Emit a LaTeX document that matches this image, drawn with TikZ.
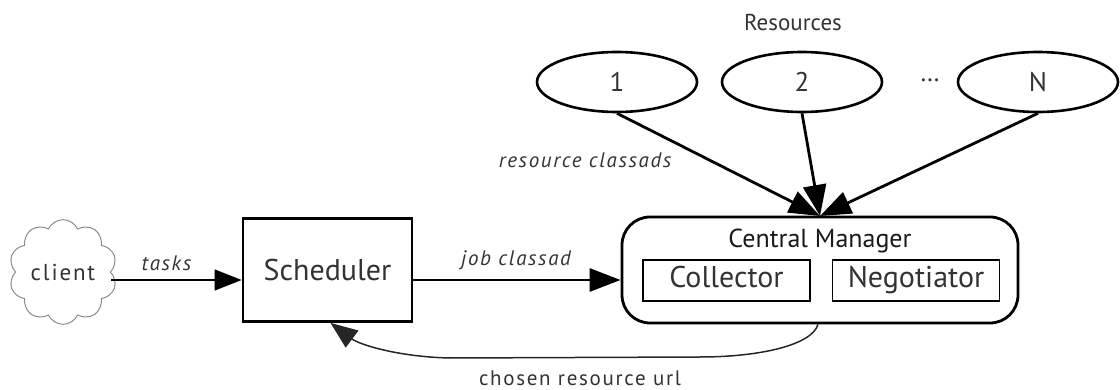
\documentclass[tikz,border=0pt]{standalone}
\usepackage{fontspec}
\setmainfont{PT Sans}
\newfontfamily\lblfont[LetterSpace=8]{PT Sans}
\usetikzlibrary{shapes.symbols,shapes.geometric,arrows.meta,calc}

\newcommand{\fntL}{\fontsize{30}{34}\selectfont}
\newcommand{\fntM}{\fontsize{26}{30}\selectfont}
\newcommand{\fntS}{\lblfont\fontsize{21}{24}\selectfont}

\begin{document}
\begin{tikzpicture}[x=1pt,y=-1pt,
  ink/.style={text=black!80},
  proc/.style={draw, line width=2.8pt, minimum width=169pt, minimum height=103pt, inner sep=0pt},
  manager/.style={draw, line width=2.8pt, rounded corners=28pt, minimum width=396pt, minimum height=106pt, inner sep=0pt},
  part/.style={draw, line width=1.3pt, minimum width=167pt, minimum height=41pt, inner sep=0pt,
    text height=21pt, text depth=6pt, ink, font=\fntL},
  res/.style={draw, ellipse, line width=2.6pt, minimum width=160pt, minimum height=60pt, inner sep=0pt,
    text height=19pt, text depth=0pt, ink, font=\fontsize{27}{30}\selectfont},
  puff/.style={draw=black!45, line width=1pt, cloud, cloud puffs=10, cloud puff arc=130,
    minimum width=108pt, minimum height=70pt, inner sep=0pt, ink, font=\lblfont\fontsize{23}{26}\selectfont},
  bigtip/.style={-{Triangle[length=31pt,width=23pt]}},
  smalltip/.style={-{Triangle[length=27pt,width=21pt]}},
  lbl/.style={ink, font=\fntS, inner sep=0pt},
  ilbl/.style={ink, font=\fntS\itshape, inner sep=0pt},
]
\useasboundingbox (0,0) rectangle (1120,390);

% resources
\node[ink, font=\fontsize{23}{26}\selectfont] (restitle) at (793,22) {Resources};
\node[res] (r1) at (617,82) {1};
\node[res] (r2) at (802,82) {2};
\node[ink, font=\fntM] (dots) at (930,80) {\dots};
\node[res] (rn) at (1038,82) {N};

% client and scheduler
\node[puff] (client) at (63,272) {client};
\node[proc, ink, font=\fntL] (sched) at (327.5,270) {Scheduler};

% central manager with its daemons
\node[manager] (cm) at (820,270) {};
\node[text=black!90, font=\fntM, inner sep=0pt] (cmtitle) at (820,241) {Central Manager};
\node[part] (coll) at (726.5,280.5) {Collector};
\node[part] (nego) at (916,280.5) {Negotiator};

% connectors
\coordinate (ax) at (0,280);
\coordinate (cmtop) at (820,216);

\draw[line width=1.3pt, smalltip] (client.east |- ax) -- (sched.west |- ax)
  node[ilbl, midway, above=9pt, xshift=-10pt] (tasks) {tasks};
\draw[line width=2.8pt, bigtip] (sched.east |- ax) -- (cm.west |- ax)
  node[ilbl, midway, above=9pt, xshift=-1pt] (jobad) {job classad};

\draw[line width=2.8pt, bigtip] (r1.south) -- (cmtop);
\draw[line width=2.8pt, bigtip] (r2.south) -- (cmtop);
\draw[line width=2.8pt, bigtip] (rn.south) -- (cmtop);
\node[ilbl] (resads) at (585,160) {resource classads};

\coordinate (ret) at (700,357);
\coordinate (retl) at (450,358);
\draw[line width=1.5pt, black!85, smalltip]
  (cm.south -| 818,0) .. controls (812,345) and (760,357) .. (ret)
  -- (retl) .. controls (400,357) and (360,345) .. ($(sched.south)+(3,0)$);
\node[lbl] (chosen) at (580,378) {chosen resource url};
\end{tikzpicture}
\end{document}
